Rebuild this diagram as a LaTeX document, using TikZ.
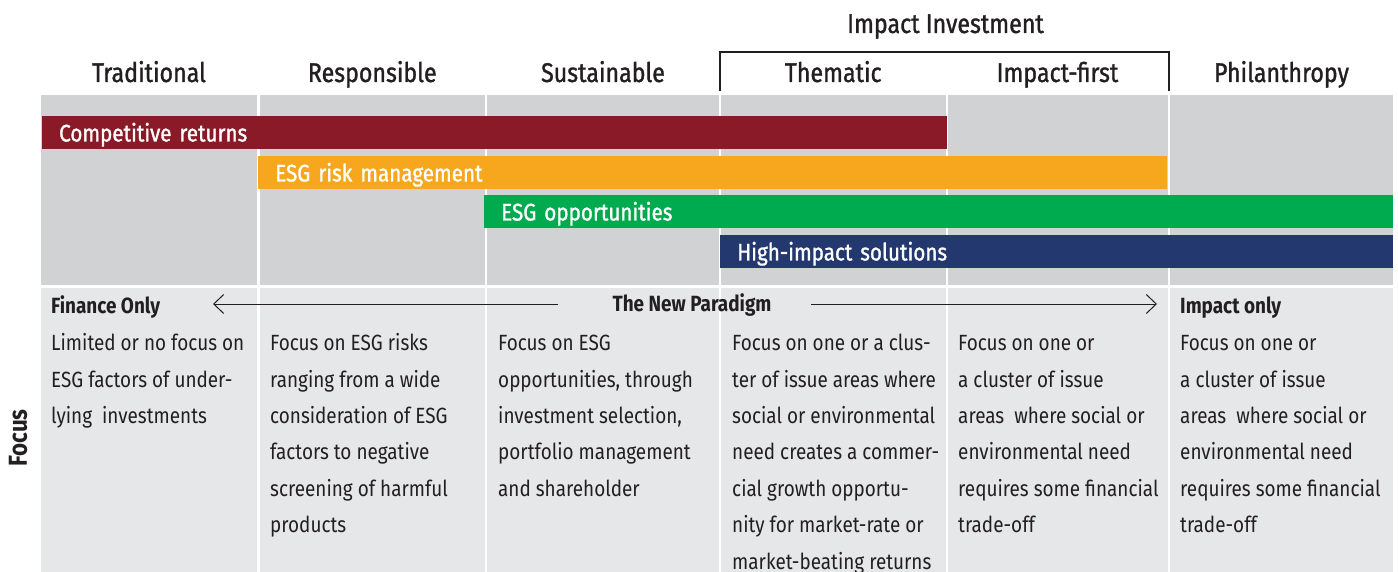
\documentclass[tikz,border=0pt]{standalone}
\usepackage{fontspec}
\setmainfont{Fira Sans}[FakeStretch=0.86]
\newfontfamily\barfont{Fira Sans}[FakeStretch=0.86, FakeBold=1.2]
\usetikzlibrary{arrows.meta}

\definecolor{topgray}{HTML}{D1D2D4}
\definecolor{botgray}{HTML}{E6E7E8}
\definecolor{barred}{HTML}{8A1A27}
\definecolor{barorange}{HTML}{F7A71E}
\definecolor{bargreen}{HTML}{00AA4F}
\definecolor{barnavy}{HTML}{22386F}
\definecolor{inkgray}{HTML}{231F20}

\begin{document}
\begin{tikzpicture}[%
    x=1pt, y=-1pt,              % pixel units, measured from the top
    >={Straight Barb[length=10pt,width=19pt]},
    ]
% -------------------------------------------------
% Styles for headers, bars, labels and the column texts
% (body nodes sit on the baseline of their last line)
\tikzset{
  head/.style={anchor=base, inner sep=0pt, text=inkgray,
    font=\barfont\fontsize{27}{32}\selectfont},
  bar/.style={anchor=west, inner xsep=17pt, inner ysep=0pt, align=left,
    text height=25.5pt, text depth=7.5pt, text=white,
    font=\barfont\fontsize{24}{28}\selectfont},
  tag/.style={anchor=base west, inner sep=0pt, text=inkgray,
    font=\bfseries\fontsize{22}{26}\selectfont},
  body/.style={anchor=base west, inner sep=0pt, align=left, text=inkgray,
    font=\fontsize{22}{36.4}\selectfont},
  norm/.style={->, draw, line width=1pt, inkgray},
}
\useasboundingbox (0,0) rectangle (1398,572);
% -------------------------------------------------
% The six columns, each with its header
\foreach \l/\r/\nm/\txt in {41/257/trad/Traditional,
    259.5/485/resp/Responsible, 487/719/sust/Sustainable,
    721/945.5/them/Thematic, 947.5/1167.5/impf/Impact-first,
    1170/1393/phil/Philanthropy} {
  \fill[topgray] (\l,95) rectangle (\r,285);
  \fill[botgray] (\l,288) rectangle (\r,572);
  \node[head] (\nm) at ({(\l+\r)/2},82) {\txt};
}
% -------------------------------------------------
% Bracket over the two impact columns
\node[head] (impinv) at (945.5,33) {Impact Investment};
\draw[line width=2pt, inkgray] (720,91) |- (1168.5,52) -- (1168.5,91);
% -------------------------------------------------
% The coloured bars
\node[bar, fill=barred, text width=871pt] (compret) at (42,132.5)
  {Competitive returns};
\node[bar, fill=barorange, text width=875pt] (esgrisk) at (258,172.5)
  {ESG risk management};
\node[bar, fill=bargreen, text width=875pt] (esgopp) at (484,211.5)
  {ESG opportunities};
\node[bar, fill=barnavy, text width=639pt] (highimp) at (720,251.5)
  {High-impact solutions};
% -------------------------------------------------
% Side label and the paradigm arrows
\node[rotate=90, inner sep=0pt, text=inkgray,
  font=\bfseries\fontsize{26}{30}\selectfont] (focus) at (18,438) {Focus};
\node[tag] (finonly) at (51,313) {Finance Only};
\node[tag] (imponly) at (1180,313) {Impact only};
\node[tag, anchor=base] (paradigm) at (692,312) {The New Paradigm};
\coordinate (pl) at (558,304);
\coordinate (pr) at (811,304);
\coordinate (finend) at (213,304);
\coordinate (impend) at (1157,304);
\draw[norm] (pl) -- (finend);
\draw[norm] (pr) -- (impend);
% -------------------------------------------------
% Column texts, first lines at y=350.7, 36.4pt apart
\node[body] (tradtxt) at (51,423.5)
  {Limited or no focus on\\ESG factors of under-\\lying~ investments};
\node[body] (resptxt) at (270,532.7)
  {Focus on ESG risks\\ranging from a wide\\consideration of ESG\\
   factors to negative\\screening of harmful\\products};
\node[body] (susttxt) at (498,496.3)
  {Focus on ESG\\opportunities, through\\investment selection,\\
   portfolio management\\and shareholder};
\node[body] (themtxt) at (732,569.1)
  {Focus on one or a clus-\\ter of issue areas where\\social or environmental\\
   need creates a commer-\\cial growth opportu-\\nity for market-rate or\\
   market-beating returns};
\node[body] (impftxt) at (958,532.7)
  {Focus on one or\\a cluster of issue\\areas~ where social or\\
   environmental need\\requires some financial\\trade-off};
\node[body] (philtxt) at (1180,532.7)
  {Focus on one or\\a cluster of issue\\areas~ where social or\\
   environmental need\\requires some financial\\trade-off};
\end{tikzpicture}
\end{document}
